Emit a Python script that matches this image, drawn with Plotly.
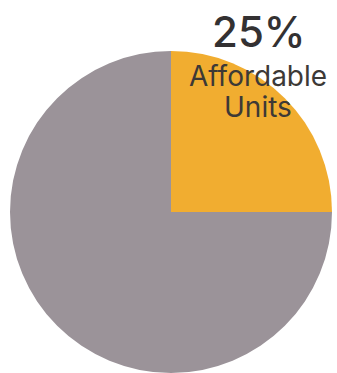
import plotly.graph_objects as go

labels = ["Affordable Units", "Other Units"]
values = [25, 75]
colors = ["#f1ad30", "#9b9399"]
pct_text = "25%"
label_lines = ["Affordable", "Units"]

W, H = 337, 373
fig = go.Figure(go.Pie(
    labels=labels, values=values, sort=False, direction="clockwise", rotation=0,
    marker=dict(colors=colors, line=dict(width=0)),
    textinfo="none", hoverinfo="label+percent", showlegend=False,
    domain=dict(x=[10/W, 332/W], y=[0, 322/H]),
))
fig.add_annotation(text=pct_text, x=258.5/W, y=1-31/H, xref="paper", yref="paper",
                   showarrow=False, font=dict(family="Inter", size=42, color="#333132", weight=500),
                   xanchor="center", yanchor="middle")
for txt, yc in zip(label_lines, [76, 107]):
    fig.add_annotation(text=txt, x=258/W, y=1-yc/H, xref="paper", yref="paper",
                       showarrow=False, height=28,
                       font=dict(family="Inter", size=28, color="#3d3936", weight=400),
                       xanchor="center", yanchor="middle")
fig.update_layout(width=W, height=H, margin=dict(l=0, r=0, t=0, b=0),
                  paper_bgcolor="white", plot_bgcolor="white")
fig.write_html("out.html")
